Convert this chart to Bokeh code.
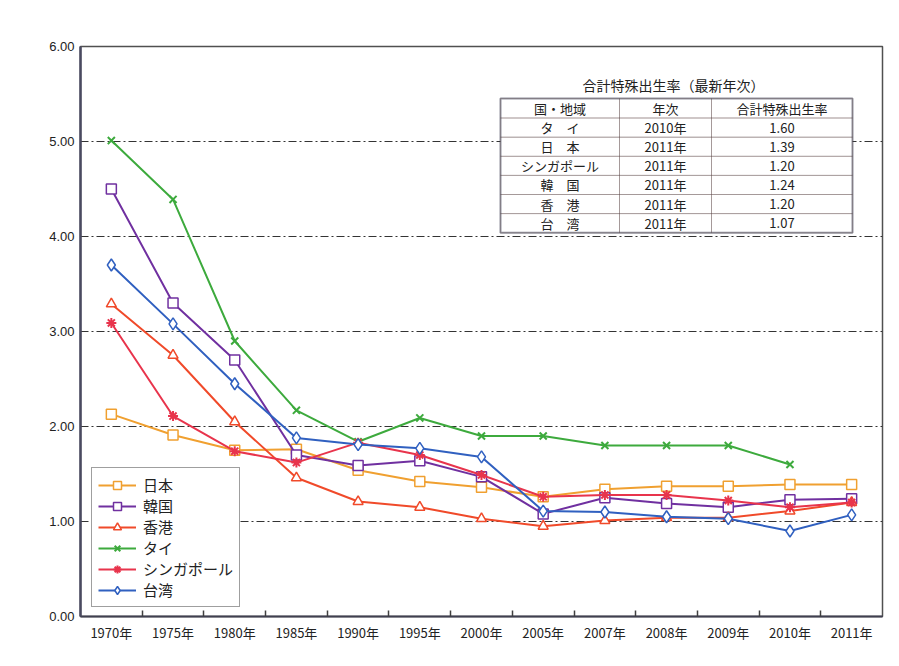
import math
from bokeh.plotting import figure
from bokeh.models import Range1d, FixedTicker, Legend, LegendItem, BoxAnnotation, Label, PrintfTickFormatter
from bokeh.embed import file_html
from bokeh.resources import INLINE

nan = float("nan")

# ---- data ----
years = ["1970年", "1975年", "1980年", "1985年", "1990年", "1995年", "2000年",
         "2005年", "2007年", "2008年", "2009年", "2010年", "2011年"]
japan = [2.13, 1.91, 1.75, 1.76, 1.54, 1.42, 1.36, 1.26, 1.34, 1.37, 1.37, 1.39, 1.39]
korea = [4.50, 3.30, 2.70, 1.70, 1.59, 1.64, 1.47, 1.08, 1.25, 1.19, 1.15, 1.23, 1.24]
hongkong = [3.29, 2.75, 2.05, 1.46, 1.21, 1.15, 1.03, 0.95, 1.01, 1.04, 1.04, 1.11, 1.20]
thailand = [5.01, 4.39, 2.90, 2.17, 1.84, 2.09, 1.90, 1.90, 1.80, 1.80, 1.80, 1.60, nan]
singapore = [3.09, 2.11, 1.74, 1.62, 1.83, 1.70, 1.49, 1.26, 1.28, 1.28, 1.22, 1.15, 1.20]
taiwan = [3.70, 3.08, 2.45, 1.88, 1.81, 1.77, 1.68, 1.11, 1.10, 1.05, 1.03, 0.90, 1.07]

series_names = ["日本", "韓国", "香港", "タイ", "シンガポール", "台湾"]
y_ticks = [0, 1, 2, 3, 4, 5, 6]

table_title = "合計特殊出生率（最新年次）"
table_header = ["国・地域", "年次", "合計特殊出生率"]
table_countries = ["タ　イ", "日　本", "シンガポール", "韓　国", "香　港", "台　湾"]
table_years = ["2010年", "2011年", "2011年", "2011年", "2011年", "2011年"]
table_values = ["1.60", "1.39", "1.20", "1.24", "1.20", "1.07"]

# ---- styles ----
series = [
    (japan, "#F0A030", "square", 10, 1.5),
    (korea, "#7030A0", "square", 10, 1.5),
    (hongkong, "#F04A2A", "triangle", 10, 1.5),
    (thailand, "#3DAA3D", "x", 10, 2),
    (singapore, "#E8344C", "asterisk", 10, 2),
    (taiwan, "#3060C0", "diamond", 12, 1.5),
]

n = len(years)
xs = [i + 0.5 for i in range(n)]

p = figure(width=893, height=658, output_backend="svg", toolbar_location=None,
           x_range=Range1d(0, n), y_range=Range1d(0, 6),
           min_border_left=80, min_border_right=11, min_border_top=46, min_border_bottom=42)
p.background_fill_color = "white"
p.border_fill_color = "white"
p.outline_line_color = "#505050"
p.outline_line_width = 1.5

# axes
xa = p.xaxis[0]
xa.ticker = FixedTicker(ticks=xs, minor_ticks=list(range(1, n)))
xa.major_label_overrides = {x: y for x, y in zip(xs, years)}
xa.major_tick_in = 0
xa.major_tick_out = 0
xa.minor_tick_in = 6
xa.minor_tick_out = 0
xa.minor_tick_line_color = "#404040"
xa.minor_tick_line_width = 1.5
xa.axis_line_color = "#404050"
xa.axis_line_width = 2
xa.major_label_text_font = "Noto Sans CJK JP"
xa.major_label_text_font_size = "13px"
xa.major_label_text_color = "#222222"
xa.major_label_standoff = 6

ya = p.yaxis[0]
ya.ticker = FixedTicker(ticks=y_ticks)
ya.formatter = PrintfTickFormatter(format="%.2f")
ya.major_tick_in = 0
ya.major_tick_out = 0
ya.minor_tick_line_color = None
ya.axis_line_color = "#4a4a60"
ya.axis_line_width = 2.5
ya.major_label_text_font = "Liberation Sans"
ya.major_label_text_font_size = "13px"
ya.major_label_text_color = "#222222"
ya.major_label_standoff = 6

p.xgrid.grid_line_color = None
p.ygrid.ticker = FixedTicker(ticks=y_ticks[1:-1])
p.ygrid.grid_line_color = "#333333"
p.ygrid.grid_line_width = 1
p.ygrid.grid_line_dash = "8 3 2 3"

items = []
for (vals, color, marker, size, mlw), name in zip(series, series_names):
    r1 = p.line(xs, vals, line_color=color, line_width=2)
    r2 = p.scatter(xs, vals, marker=marker, size=size, line_color=color,
                   fill_color="white", line_width=mlw)
    items.append(LegendItem(label=name, renderers=[r1, r2]))

legend = Legend(items=items, location=(11, 9), orientation="vertical",
                label_text_font="Noto Sans CJK JP", label_text_font_size="15px",
                label_text_color="#222222", glyph_width=38, glyph_height=20,
                label_height=20, label_standoff=7, spacing=0, padding=6, margin=0,
                border_line_color="#404040", border_line_width=1.5,
                background_fill_color="white", background_fill_alpha=1)
p.add_layout(legend, "center")

# ---- table (placed by page pixel positions converted to data units) ----
def dx(px):
    return (px - 80) * n / 802.0

def dy(py):
    return (616 - py) * 6 / 570.0

col_px = [500, 619, 711, 852]
row_px = [98, 117.5, 136.7, 155.8, 174.9, 194.0, 213.1, 232.2]

p.add_layout(BoxAnnotation(left=dx(col_px[0]), right=dx(col_px[-1]),
                           top=dy(row_px[0]), bottom=dy(row_px[-1]),
                           fill_color="white", fill_alpha=1,
                           line_color="#404050", line_width=2))

rows = [table_header] + [[c, y, v] for c, y, v in zip(table_countries, table_years, table_values)]
for r, row in enumerate(rows):
    for c, txt in enumerate(row):
        p.add_layout(BoxAnnotation(left=dx(col_px[c]), right=dx(col_px[c + 1]),
                                   top=dy(row_px[r]), bottom=dy(row_px[r + 1]),
                                   fill_alpha=0, line_color="#503838", line_width=1))
        p.add_layout(Label(x=(dx(col_px[c]) + dx(col_px[c + 1])) / 2,
                           y=(dy(row_px[r]) + dy(row_px[r + 1])) / 2,
                           text=txt, text_align="center", text_baseline="middle",
                           text_font="Noto Sans CJK JP", text_font_size="13px",
                           text_color="#222222"))

p.add_layout(BoxAnnotation(left=dx(col_px[0]), right=dx(col_px[-1]),
                           top=dy(row_px[0]), bottom=dy(row_px[-1]),
                           fill_alpha=0, line_color="#404050", line_width=2))

p.add_layout(Label(x=dx(673), y=dy(84), text=table_title, text_align="center",
                   text_baseline="middle", text_font="Noto Sans CJK JP",
                   text_font_size="14px", text_color="#222222"))

open("out.html", "w").write(file_html(p, INLINE))
